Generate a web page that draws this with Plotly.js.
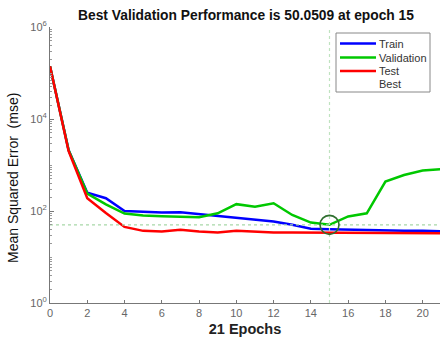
<!DOCTYPE html>
<html>
<head>
<meta charset="utf-8">
<script src="https://cdn.plot.ly/plotly-3.0.1.min.js"></script>
<style>html,body{margin:0;padding:0;background:#fff;}#chart{width:440px;height:340px;}</style>
</head>
<body>
<div id="chart"></div>
<script>
var epochs = [0,1,2,3,4,5,6,7,8,9,10,11,12,13,14,15,16,17,18,19,20,21];
var trainMSE = [140000,2100,250,190,100,97,93,94,86,78,72,66,59,50,41,40,39,39,38,37,37,36];
var validationMSE = [140000,2100,240,140,88,80,77,75,73,89,141,124,147,82,56,50.0509,76,89,435,605,755,810];
var testMSE = [140000,2000,190,90,45,37,36,39,36,34,37,35,34,34,34,34,34,34,34,33,33,33];
var bestEpoch = 15;
var bestValue = 50.0509;
var yTickVals = [1,100,10000,1000000];
var yTickText = ['10<sup>0</sup>','10<sup>2</sup>','10<sup>4</sup>','10<sup>6</sup>'];
var xTickVals = [0,2,4,6,8,10,12,14,16,18,20];
var legendNames = ['Train','Validation','Test','Best'];
var legendColors = ['#0000ff','#00c800','#ff0000','#d8ecd8'];

var FONT = 'Arial, "Liberation Sans", sans-serif';
var L = 50, R = 0, T = 27, B = 37, W = 440, H = 340;
var pw = W - L - R, ph = H - T - B;
function px(x){ return (x - L) / pw; }
function py(y){ return 1 - (y - T) / ph; }

var traces = [
  {x: epochs, y: trainMSE, type: 'scatter', mode: 'lines', name: 'Train', line: {color: '#0000ff', width: 2.5}},
  {x: epochs, y: validationMSE, type: 'scatter', mode: 'lines', name: 'Validation', line: {color: '#00c800', width: 2.5}},
  {x: epochs, y: testMSE, type: 'scatter', mode: 'lines', name: 'Test', line: {color: '#ff0000', width: 2.5}},
  {x: [bestEpoch, bestEpoch], y: [1, 1000000], type: 'scatter', mode: 'lines', name: 'Best', line: {color: '#bfe3bf', width: 1.2, dash: 'dot'}},
  {x: [0, 21], y: [bestValue, bestValue], type: 'scatter', mode: 'lines', showlegend: false, line: {color: '#a8d8a8', width: 1.2, dash: 'dot'}},
  {x: [bestEpoch], y: [bestValue], type: 'scatter', mode: 'markers', showlegend: false,
   marker: {symbol: 'circle-open', size: 19, color: '#2f6f2f', line: {width: 1.6, color: '#2f6f2f'}}}
];

var shapes = [{type: 'rect', xref: 'paper', yref: 'paper', x0: px(336), x1: px(430), y0: py(92), y1: py(33),
  line: {color: '#888', width: 1}, fillcolor: '#fff', layer: 'above'}];
var annotations = [];
var rowY = [43.5, 57.5, 71, 84];
for (var i = 0; i < legendNames.length; i++) {
  if (i < 3) {
    shapes.push({type: 'line', xref: 'paper', yref: 'paper', x0: px(340), x1: px(376), y0: py(rowY[i]), y1: py(rowY[i]),
      line: {color: legendColors[i], width: 2.5}, layer: 'above'});
  }
  annotations.push({xref: 'paper', yref: 'paper', x: px(377), y: py(rowY[i]), xanchor: 'left', yanchor: 'middle',
    text: legendNames[i], showarrow: false, font: {family: FONT, size: 11, color: '#333'}});
}
annotations.push({xref: 'paper', yref: 'paper', x: px(13), y: py(178), xanchor: 'center', yanchor: 'middle',
  textangle: -90, text: 'Mean Squared Error  (mse)', showarrow: false, font: {family: FONT, size: 14, color: '#111'}});

var layout = {
  width: W, height: H,
  margin: {l: L, r: R, t: T, b: B, pad: 0},
  paper_bgcolor: '#fff', plot_bgcolor: '#fff',
  showlegend: false,
  title: {text: '<b>Best Validation Performance is 50.0509 at epoch 15</b>', font: {family: FONT, size: 13.8, color: '#111'},
    x: 246 / W, xanchor: 'center', y: 1 - 15 / H, yanchor: 'middle'},
  xaxis: {range: [0, 20.93], tickvals: xTickVals, ticks: 'inside', ticklen: 3, tickcolor: '#777',
    showline: true, linecolor: '#777', linewidth: 1, showgrid: false, zeroline: false,
    tickfont: {family: FONT, size: 11, color: '#666'},
    title: {text: '<b>21 Epochs</b>', font: {family: FONT, size: 14.5, color: '#222'}, standoff: 5}},
  yaxis: {type: 'log', range: [0, 6], tickvals: yTickVals, ticktext: yTickText, ticks: 'inside', ticklen: 4, tickcolor: '#777',
    minor: {dtick: 'D1', ticks: 'inside', ticklen: 2, tickcolor: '#999', showgrid: false},
    showline: true, linecolor: '#777', linewidth: 1, showgrid: false, zeroline: false,
    tickfont: {family: FONT, size: 11, color: '#666'}},
  shapes: shapes,
  annotations: annotations
};

Plotly.newPlot('chart', traces, layout, {staticPlot: true, displayModeBar: false});
</script>
</body>
</html>
